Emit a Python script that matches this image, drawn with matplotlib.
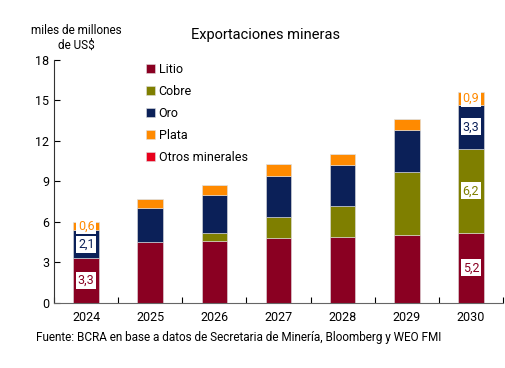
import matplotlib
matplotlib.use("Agg")
import matplotlib.pyplot as plt
import numpy as np

plt.rcParams['font.family'] = ['Roboto', 'DejaVu Sans']

years = ['2024', '2025', '2026', '2027', '2028', '2029', '2030']
litio = [3.3, 4.5, 4.6, 4.8, 4.9, 5.0, 5.2]
cobre = [0.0, 0.0, 0.6, 1.6, 2.3, 4.7, 6.2]
oro = [2.1, 2.5, 2.8, 3.0, 3.0, 3.1, 3.3]
plata = [0.6, 0.7, 0.7, 0.9, 0.85, 0.85, 0.9]
otros = [0.0, 0.0, 0.0, 0.0, 0.0, 0.0, 0.0]

series = [('Litio', litio, '#8a0022'),
          ('Cobre', cobre, '#7f7f00'),
          ('Oro', oro, '#0b2058'),
          ('Plata', plata, '#ff8a00'),
          ('Otros minerales', otros, '#e8001c')]

# which segments get a value label (year index, series index)
labeled = [(0, 0), (0, 2), (0, 3), (6, 0), (6, 1), (6, 2), (6, 3)]

fig = plt.figure(figsize=(5.06, 3.68), dpi=100)
ax = fig.add_axes([0.107, 0.177, 0.887, 0.66])

x = np.arange(len(years))
bottom = np.zeros(len(years))
cum = []
for name, vals, col in series:
    vals = np.array(vals)
    cum.append(bottom.copy())
    ax.bar(x, vals, 0.4, bottom=bottom, color=col, label=name,
           edgecolor='#e0e0e0', linewidth=0.4)
    bottom = bottom + vals

for i, s in labeled:
    name, vals, col = series[s]
    yc = cum[s][i] + vals[i] / 2
    ax.text(x[i], yc, f'{vals[i]:.1f}'.replace('.', ','), ha='center', va='center',
            fontsize=9, color=col,
            bbox=dict(boxstyle='square,pad=0.15', fc='white', ec='none'))

ax.set_ylim(0, 18)
ax.set_yticks(range(0, 19, 3))
ax.set_xlim(-0.5, len(years) - 0.5)
ax.set_xticks(x)
ax.set_xticklabels(years)
ax.set_xticks(np.arange(-0.5, len(years), 1), minor=True)
ax.tick_params(axis='x', which='major', length=0, labelsize=9, pad=6)
ax.tick_params(axis='x', which='minor', direction='in', length=4, width=0.8)
ax.tick_params(axis='y', direction='in', length=4, width=0.8, labelsize=9)
for sp in ['top', 'right']:
    ax.spines[sp].set_visible(False)
ax.spines['left'].set_color('#333333')
ax.spines['bottom'].set_color('#666666')

ax.legend(loc='upper left', bbox_to_anchor=(0.18, 1.035), frameon=False,
          fontsize=9, handlelength=0.7, handleheight=0.7, handletextpad=0.3,
          labelspacing=0.72)

fig.text(0.525, 0.905, 'Exportaciones mineras', ha='center', va='center', fontsize=10.5)
fig.text(0.15, 0.897, 'miles de millones\nde US$', ha='center', va='center',
         fontsize=8.5, linespacing=1.25)
fig.text(0.072, 0.083, 'Fuente: BCRA en base a datos de Secretaria de Minería, Bloomberg y WEO FMI',
         ha='left', va='center', fontsize=8.5)

fig.savefig('out.png', dpi=100)
